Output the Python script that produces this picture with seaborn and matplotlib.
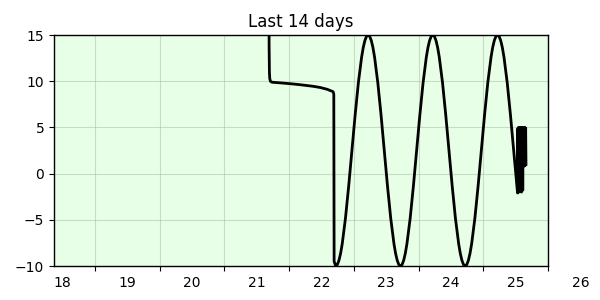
import matplotlib
matplotlib.use("Agg")
import matplotlib.pyplot as plt
import seaborn as sns
import pandas as pd

# ---- data (days, value) ----
lead_days = [21.69, 21.69, 21.695, 21.70, 21.71, 21.73, 21.75, 21.9, 22.06, 22.17, 22.37, 22.48, 22.59, 22.68, 22.69, 22.695]
lead_vals = [25.0, 14.0, 11.0, 10.3, 10.0, 9.9, 9.88, 9.8, 9.7, 9.62, 9.45, 9.32, 9.12, 8.86, 8.6, -9.5]

wave_days = [22.72, 22.745, 22.77, 22.795, 22.82, 22.87, 22.92, 22.97, 23.02, 23.07,
             23.12, 23.145, 23.17, 23.195, 23.22, 23.245, 23.27, 23.295, 23.32, 23.37,
             23.42, 23.47, 23.52, 23.57, 23.62, 23.645, 23.67, 23.695,
             23.72, 23.745, 23.77, 23.795, 23.82, 23.87, 23.92, 23.97, 24.02, 24.07,
             24.12, 24.145, 24.17, 24.195, 24.22, 24.245, 24.27, 24.295, 24.32, 24.37,
             24.42, 24.47, 24.52, 24.57, 24.62, 24.645, 24.67, 24.695,
             24.72, 24.745, 24.77, 24.795, 24.82, 24.87, 24.92, 24.97, 25.02, 25.07,
             25.12, 25.145, 25.17, 25.195, 25.22, 25.245, 25.27, 25.295, 25.32, 25.37,
             25.42, 25.47, 25.52, 25.53]
wave_vals = [-10.0, -9.85, -9.39, -8.64, -7.61, -4.85, -1.36, 2.5, 6.36, 9.85,
             12.61, 13.64, 14.39, 14.85, 15.0, 14.85, 14.39, 13.64, 12.61, 9.85,
             6.36, 2.5, -1.36, -4.85, -7.61, -8.64, -9.39, -9.85,
             -10.0, -9.85, -9.39, -8.64, -7.61, -4.85, -1.36, 2.5, 6.36, 9.85,
             12.61, 13.64, 14.39, 14.85, 15.0, 14.85, 14.39, 13.64, 12.61, 9.85,
             6.36, 2.5, -1.36, -4.85, -7.61, -8.64, -9.39, -9.85,
             -10.0, -9.85, -9.39, -8.64, -7.61, -4.85, -1.36, 2.5, 6.36, 9.85,
             12.61, 13.64, 14.39, 14.85, 15.0, 14.85, 14.39, 13.64, 12.61, 9.85,
             6.36, 2.5, -1.36, -2.1]

tail_days = [25.535, 25.54, 25.545, 25.55, 25.555, 25.56, 25.565, 25.57, 25.575, 25.58,
             25.585, 25.59, 25.595, 25.60, 25.605, 25.61, 25.615, 25.62, 25.625, 25.63,
             25.635, 25.64, 25.645, 25.65, 25.655, 25.66]
tail_vals = [4.9, -1.8, 5.0, -2.0, 4.8, -1.5, 5.0, -1.9, 4.9, -1.7,
             5.0, -2.0, 4.7, -1.6, 5.0, -1.8, 4.9, 0.9, 5.0, 0.8,
             4.8, 1.0, 5.0, 0.9, 4.9, 1.0]

tick_days = [19, 20, 21, 22, 23, 24, 25, 26]
day_labels = ["18", "19", "20", "21", "22", "23", "24", "25", "26"]
y_ticks = [-10, -5, 0, 5, 10, 15]
title = "Last 14 days"

df = pd.DataFrame({"day": lead_days + wave_days + tail_days,
                   "value": lead_vals + wave_vals + tail_vals})

fig = plt.figure(figsize=(6, 3), dpi=100)
ax = fig.add_axes([0.09, 0.1133, 0.8233, 0.77])
ax.set_facecolor("#e6ffe6")

sns.lineplot(data=df, x="day", y="value", sort=False, estimator=None,
             color="black", linewidth=2, ax=ax)

ax.set_xlim(18.366, 26.0)
ax.set_ylim(-10, 15)
ax.set_yticks(y_ticks)
ax.set_xticks(tick_days)
ax.set_xticklabels([""] * len(tick_days))
ax.grid(True, color="#9ab89a", alpha=0.45, linewidth=0.8)
ax.set_axisbelow(True)
ax.set_xlabel("")
ax.set_ylabel("")
for s in ax.spines.values():
    s.set_color("black")
    s.set_linewidth(1.0)

for i, lab in enumerate(day_labels):
    ax.annotate(lab, xy=(18 + i + 0.5, 0), xycoords=("data", "axes fraction"),
                xytext=(0, -7), textcoords="offset points",
                ha="center", va="top", fontsize=10, annotation_clip=False)

ax.set_title(title, fontsize=12)

fig.savefig("out.png", dpi=100)
